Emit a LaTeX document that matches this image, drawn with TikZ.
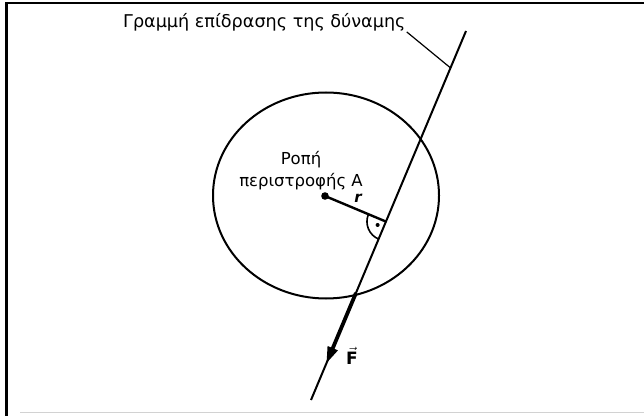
\documentclass[tikz,border=0pt]{standalone}
\usepackage{fontspec}
\setmainfont{DejaVu Sans}
\usetikzlibrary{calc,arrows.meta}
\tikzset{frameline/.style={line width=2.6pt,line cap=rect},
  thinline/.style={line width=2pt},
  forceline/.style={line width=3.8pt},
  lbl/.style={font=\fontsize{16.5}{22}\selectfont,inner sep=0pt}}

\begin{document}
\begin{tikzpicture}[x=1pt,y=1pt]
\useasboundingbox (0,0) rectangle (644,415);
\draw[frameline] (644,412) -- (6.5,412) -- (6.5,0);
\draw[gray!35,line width=1pt] (20,2.5) -- (644,2.5);
\coordinate (L1) at (466,384); \coordinate (L2) at (311,15); \coordinate (A) at (325,219);
\coordinate (foot) at ($(L1)!(A)!(L2)$);
\coordinate (Fstart) at ($(L1)!0.71!(L2)$); \coordinate (Ftip) at ($(L1)!0.902!(L2)$);
\coordinate (lp) at ($(L1)!0.1!(L2)$);
\draw[thinline] (326,219.5) ellipse [x radius=113,y radius=103];
\draw[thinline] (L1) -- (L2);
\draw[forceline,-{Triangle[length=17pt,width=10pt]}] (Fstart) -- (Ftip);
\draw[line width=2.4pt] (A) -- (foot);
\fill (A) circle (3.8);
% right angle at the foot
\draw[line width=1.6pt] let \p1=($(A)-(foot)$), \n1={atan2(\y1,\x1)} in
  ($(foot)!19pt!(A)$) arc[start angle=\n1,delta angle=90,radius=19];
\fill let \p1=($(A)-(foot)$), \n1={atan2(\y1,\x1)} in ($(foot)+(\n1+45:9)$) circle (2);
\node[lbl,font=\fontsize{17.6}{22}\selectfont,anchor=base west] (title) at (123,387) {Γραμμή επίδρασης της δύναμης};
\draw[line width=1.2pt] ($(title.south east)+(1,0)$) -- (lp);
\node[lbl,align=center] (moment) at (301,244) {Ροπή\\περιστροφής A};
\node[font=\itshape\bfseries\fontsize{15}{15}\selectfont,inner sep=0pt] (rlbl) at (358,217) {r};
\node[font=\fontsize{17}{17}\selectfont,inner sep=0pt] (flbl) at (352,59) {$\vec{\textbf{F}}$};
\end{tikzpicture}
\end{document}
